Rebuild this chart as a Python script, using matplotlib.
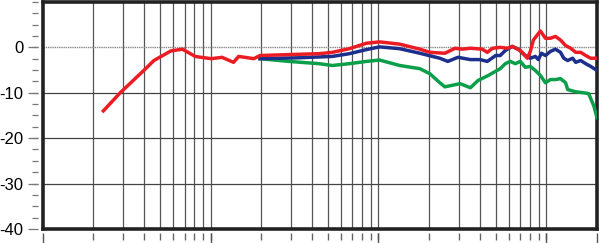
import numpy as np
import matplotlib
matplotlib.use("Agg")
import matplotlib.pyplot as plt
from matplotlib.ticker import FixedLocator, NullFormatter

# frequency response curves (Hz, dB)
red_f = [23, 29, 40, 46, 58, 68, 81, 88, 101, 117, 137, 147, 181, 197, 293, 443,
         531, 670, 847, 1015, 1337, 1762, 2020, 2483, 2860, 3146, 3526, 4145, 4445,
         4777, 5306, 5855, 6255, 6985, 7700, 8018, 8360, 9204, 9863, 10560, 11320,
         12130, 13000, 13930, 14930, 15990, 17130, 18340, 20000]
red_db = [-14, -10, -5.1, -2.9, -0.8, -0.4, -2.0, -2.2, -2.5, -2.2, -3.3, -2.0,
          -2.5, -1.8, -1.6, -1.4, -1.1, -0.3, 0.9, 1.2, 0.7, -0.4, -1.1, -1.3, -0.2,
          -0.4, -0.2, -0.4, -1.1, -0.2, 0.0, -0.2, 0.2, -0.7, -2.4, -0.9, 1.6, 3.6,
          2.0, 2.0, 2.4, 1.6, 0.4, -0.2, -1.1, -1.1, -1.8, -2.4, -2.4]

blue_f = [197, 336, 531, 670, 847, 1015, 1337, 1762, 2317, 2587, 2972, 3526, 4028,
          4445, 4989, 5306, 5690, 6255, 6797, 7484, 8018, 8590, 8953, 9333, 9863,
          10560, 11320, 12130, 12680, 13380, 14320, 14930, 15990, 17130, 18340, 20000]
blue_db = [-2.5, -2.3, -2.0, -1.4, -0.5, 0.1, -0.3, -1.3, -2.4, -3.1, -2.2, -2.7,
           -2.7, -3.1, -1.8, -1.8, -0.7, 0.2, -0.4, -1.8, -2.4, -2.0, -2.7, -1.3,
           -1.8, -0.9, -0.4, -1.1, -2.4, -2.9, -2.4, -3.3, -2.9, -3.6, -4.2, -5.1]

green_f = [197, 293, 443, 531, 670, 847, 1015, 1337, 1762, 2020, 2317, 2483, 2722,
           3058, 3526, 3916, 4505, 5306, 5690, 6085, 6525, 6985, 7484, 8018, 8590,
           9204, 9863, 10560, 11320, 12130, 13000, 13380, 14930, 16650, 17840, 19150,
           20000]
green_db = [-2.5, -3.1, -3.6, -4.0, -3.6, -3.1, -2.8, -4.0, -4.7, -5.8, -7.8, -8.7,
            -8.4, -8.0, -8.9, -7.3, -6.2, -4.7, -3.6, -3.1, -3.6, -3.1, -4.4, -4.2,
            -5.1, -6.2, -7.8, -7.1, -7.1, -6.9, -7.8, -9.3, -9.8, -10.0, -10.2, -12.9,
            -15.5]

y_labels = [0, -10, -20, -30, -40]
x_decades = [10, 100, 1000, 10000, 20000]

fig = plt.figure(figsize=(6, 2.43), dpi=100)
rect = [0.071, 0.058, 0.924, 0.934]
ax = fig.add_axes(rect)

ax.set_xscale("log")
ax.set_xlim(10, 20000)
ax.set_ylim(-40, 10)

# vertical grid at 2..9 of every decade plus decade lines
grid_x = [m * d for d in (10, 100, 1000) for m in range(2, 11)]
for gx in grid_x:
    ax.axvline(gx, color="#555555", lw=0.9, zorder=1)
for gy in (-10, -20, -30):
    ax.axhline(gy, color="#444444", lw=0.9, zorder=1)
ax.axhline(0, color="#888888", lw=1.0, ls=(0, (1, 0.6)), zorder=1)

ax.plot(green_f, green_db, color="#0b9f4a", lw=2.5, zorder=3)
ax.plot(blue_f, blue_db, color="#1c2f8c", lw=2.5, zorder=4)
ax.plot(red_f, red_db, color="#ec1c24", lw=2.5, zorder=5)

for s in ax.spines.values():
    s.set_linewidth(2.6)
    s.set_color("#222222")
ax.tick_params(which="both", left=False, bottom=False,
               labelleft=False, labelbottom=False)


def tick_layer():
    t = fig.add_axes(rect, frameon=False)
    t.set_xscale("log")
    t.set_xlim(10, 20000)
    t.set_ylim(-40, 10)
    t.spines["left"].set_position(("outward", 3))
    t.spines["bottom"].set_position(("outward", 3))
    t.xaxis.set_minor_locator(FixedLocator([]))
    t.yaxis.set_minor_locator(FixedLocator([]))
    t.xaxis.set_major_formatter(NullFormatter())
    return t


# short ticks: every grid line on x, every 2.5 dB on y
tk = tick_layer()
tk.xaxis.set_major_locator(FixedLocator(grid_x))
tk.yaxis.set_major_locator(FixedLocator(np.arange(-37.5, 10.1, 2.5)))
tk.yaxis.set_major_formatter(NullFormatter())
tk.tick_params(axis="x", length=5, width=1.0, color="#666666", direction="out")
tk.tick_params(axis="y", length=4, width=0.9, color="#777777", direction="out")

# long ticks: decades on x, labelled 10 dB steps on y
tk2 = tick_layer()
tk2.xaxis.set_major_locator(FixedLocator(x_decades))
tk2.yaxis.set_major_locator(FixedLocator(y_labels))
tk2.set_yticklabels([str(v) for v in y_labels], family="Liberation Sans")
tk2.tick_params(axis="x", length=8, width=1.0, color="#555555", direction="out")
tk2.tick_params(axis="y", length=7, width=0.9, color="#777777", labelsize=12,
                pad=4, direction="out")

fig.savefig("out.png", dpi=100)
